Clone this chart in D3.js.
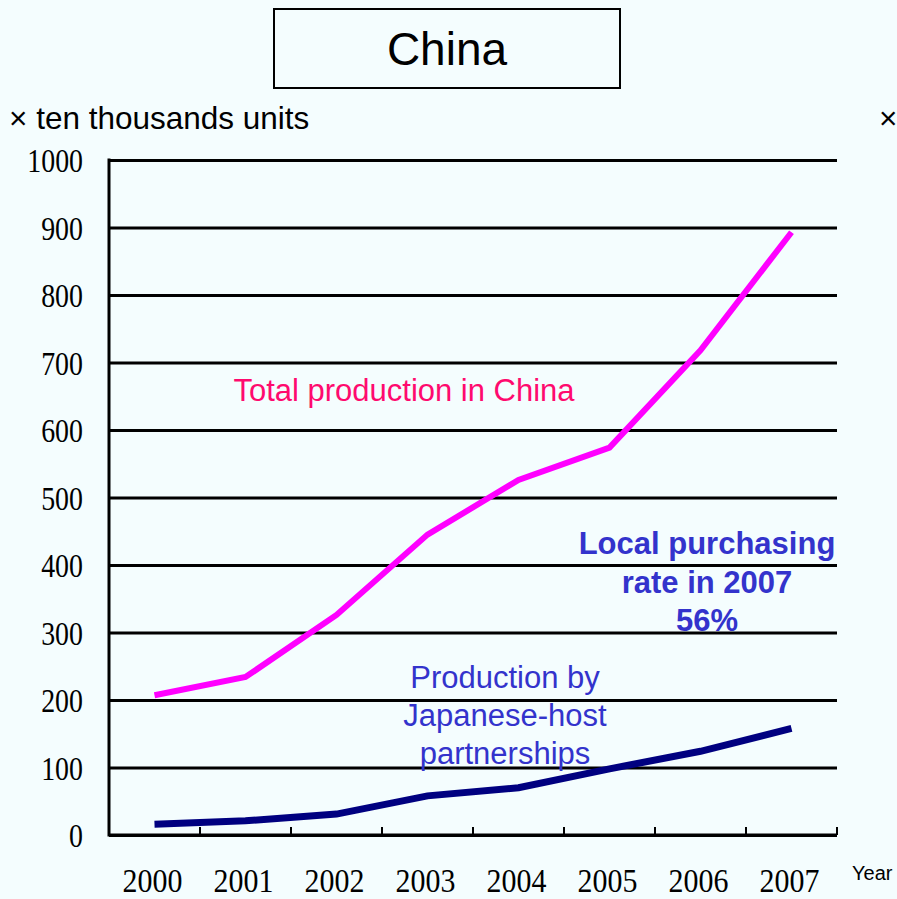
<!DOCTYPE html>
<html>
<head>
<meta charset="utf-8">
<script src="https://cdn.jsdelivr.net/npm/d3@7"></script>
<style>
  html, body { margin: 0; padding: 0; background: #f4fdfe; }
  svg { display: block; }
</style>
</head>
<body>
<svg id="chart" width="897" height="899"></svg>
<script>
const years = ["2000", "2001", "2002", "2003", "2004", "2005", "2006", "2007"];
const totalProduction = [207, 234, 326, 445, 526, 574, 718, 893];
const japaneseProduction = [16, 21, 31, 58, 70, 98, 124, 158];
const yTicks = [0, 100, 200, 300, 400, 500, 600, 700, 800, 900, 1000];

(function () {
const svg = d3.select("#chart");
const W = 897, H = 899;
svg.append("rect").attr("width", W).attr("height", H).attr("fill", "#f4fdfe");

const pLeft = 109, pRight = 837, pTop = 160, pBottom = 835;
const x = d3.scaleBand().domain(years).range([pLeft, pRight]).padding(0);
const y = d3.scaleLinear().domain([0, 1000]).range([pBottom, pTop]);

// Title box
svg.append("rect").attr("x", 274).attr("y", 9).attr("width", 346).attr("height", 79)
  .attr("fill", "none").attr("stroke", "#000").attr("stroke-width", 2);
svg.append("text").attr("x", 447).attr("y", 65).attr("text-anchor", "middle")
  .attr("font-family", "Liberation Sans, Arial, sans-serif").attr("font-size", 46)
  .attr("fill", "#000").text("China");

// Unit labels
svg.append("text").attr("x", 9).attr("y", 129)
  .attr("font-family", "Liberation Sans, Arial, sans-serif").attr("font-size", 31.5)
  .attr("fill", "#000").text("× ten thousands units");
svg.append("text").attr("x", 879).attr("y", 129)
  .attr("font-family", "Liberation Sans, Arial, sans-serif").attr("font-size", 31.5)
  .attr("fill", "#000").text("×");

// Y axis with gridlines
const yAxis = svg.append("g").attr("transform", `translate(${pLeft},0)`)
  .call(d3.axisLeft(y).tickValues(yTicks).tickSize(-(pRight - pLeft)).tickFormat(d3.format("d")));
yAxis.select(".domain").remove();
yAxis.selectAll(".tick line").attr("stroke", "#000").attr("stroke-width", 3);
yAxis.selectAll(".tick text")
  .attr("x", 0).attr("dy", "0.35em")
  .attr("text-anchor", "end")
  .attr("transform", "translate(-26,0) scale(0.82,1)")
  .attr("font-family", "Liberation Serif, Times New Roman, serif")
  .attr("font-size", 34).attr("fill", "#000");

// Left axis line
svg.append("line").attr("x1", pLeft).attr("x2", pLeft).attr("y1", pTop - 1.5).attr("y2", pBottom + 1.5)
  .attr("stroke", "#000").attr("stroke-width", 3);

// X axis
const xAxis = svg.append("g").attr("transform", `translate(0,${pBottom})`)
  .call(d3.axisBottom(x).tickSize(0));
xAxis.select(".domain").remove();
xAxis.selectAll(".tick text")
  .attr("y", 57).attr("dy", 0).attr("x", 0)
  .attr("text-anchor", "middle")
  .attr("transform", "translate(-2,0) scale(0.88,1)")
  .attr("font-family", "Liberation Serif, Times New Roman, serif")
  .attr("font-size", 34).attr("fill", "#000");

// bottom axis line
svg.append("line").attr("x1", pLeft).attr("x2", pRight).attr("y1", pBottom).attr("y2", pBottom)
  .attr("stroke", "#000").attr("stroke-width", 3);
// upward ticks at band boundaries
svg.selectAll(".xtick").data(years).enter().append("line")
  .attr("class", "xtick")
  .attr("x1", d => x(d) + x.bandwidth()).attr("x2", d => x(d) + x.bandwidth())
  .attr("y1", pBottom - 8).attr("y2", pBottom)
  .attr("stroke", "#000").attr("stroke-width", 2);

svg.append("text").attr("x", 852).attr("y", 880)
  .attr("font-family", "Liberation Sans, Arial, sans-serif").attr("font-size", 20)
  .attr("fill", "#000").text("Year");

// Lines
const line = d3.line().x((d, i) => x(years[i]) + x.bandwidth() / 2).y(d => y(d));
svg.append("path").datum(totalProduction).attr("d", line)
  .attr("fill", "none").attr("stroke", "#ff00ff").attr("stroke-width", 6).attr("stroke-linejoin", "miter");
svg.append("path").datum(japaneseProduction).attr("d", line)
  .attr("fill", "none").attr("stroke", "#000080").attr("stroke-width", 7).attr("stroke-linejoin", "miter");

// Annotations
svg.append("text").attr("x", 404).attr("y", 401).attr("text-anchor", "middle")
  .attr("font-family", "Liberation Sans, Arial, sans-serif").attr("font-size", 31)
  .attr("fill", "#ff0a6e").text("Total production in China");

const jp = ["Production by", "Japanese-host", "partnerships"];
svg.selectAll(".jp").data(jp).enter().append("text").attr("class", "jp")
  .attr("x", 505).attr("y", (d, i) => 688 + i * 38).attr("text-anchor", "middle")
  .attr("font-family", "Liberation Sans, Arial, sans-serif").attr("font-size", 31)
  .attr("fill", "#3333cc").text(d => d);

const lp = ["Local purchasing", "rate in 2007", "56%"];
svg.selectAll(".lp").data(lp).enter().append("text").attr("class", "lp")
  .attr("x", 707).attr("y", (d, i) => 554 + i * 38.5).attr("text-anchor", "middle")
  .attr("font-family", "Liberation Sans, Arial, sans-serif").attr("font-size", 31)
  .attr("font-weight", "bold")
  .attr("fill", "#3333cc").text(d => d);
})();
</script>
</body>
</html>
